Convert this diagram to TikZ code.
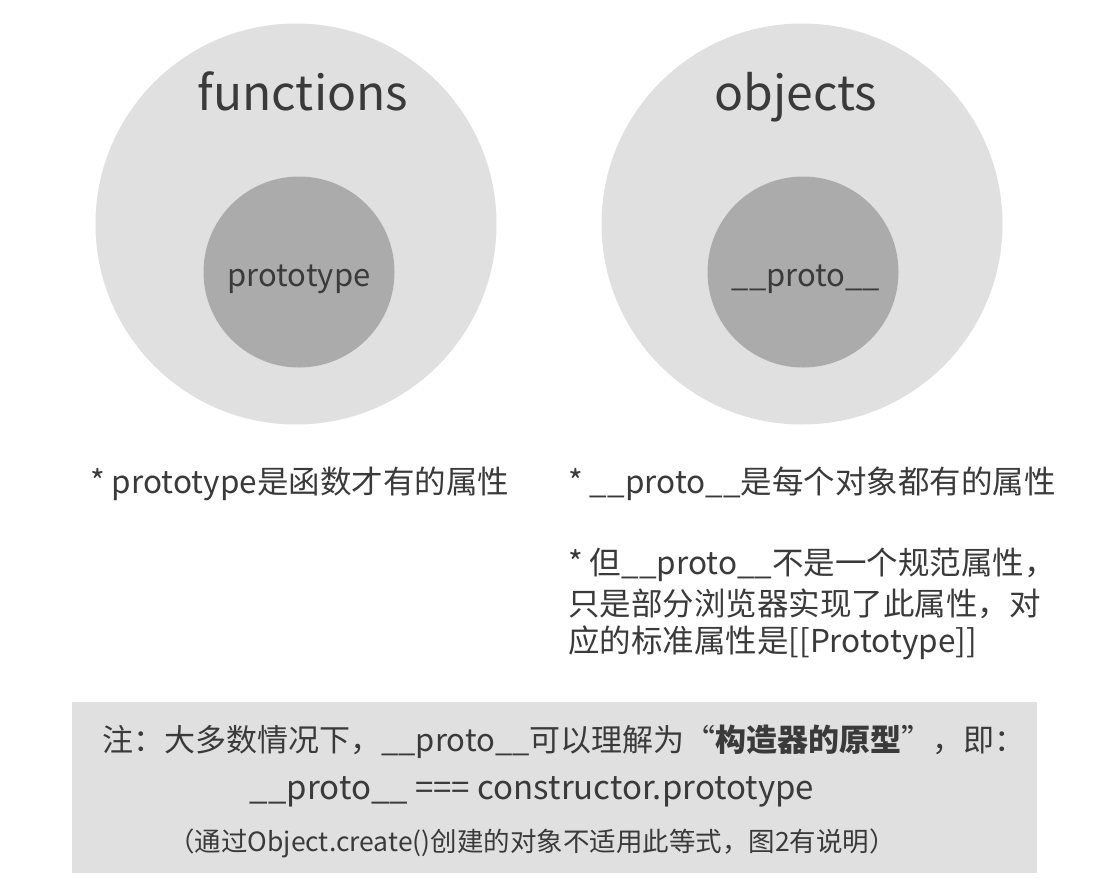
\documentclass[tikz,border=0pt]{standalone}
\usepackage{fontspec}
\setmainfont{Noto Sans CJK SC}
\definecolor{outerfill}{HTML}{E0E0E0}
\definecolor{innerfill}{HTML}{ABABAB}
\definecolor{txt}{HTML}{3A3A3A}
\definecolor{boxfill}{HTML}{E0E0E0}
\tikzset{
  outercirc/.style={circle, fill=outerfill, minimum size=401pt, inner sep=0pt},
  innercirc/.style={circle, fill=innerfill, minimum size=191pt, inner sep=0pt},
  bigtitle/.style={text=txt, font=\fontsize{48}{56}\selectfont, inner sep=0pt, anchor=base},
  innertext/.style={text=txt, font=\fontsize{31}{36}\selectfont, inner sep=0pt, anchor=base},
  note/.style={text=txt, font=\fontsize{31.5}{36}\selectfont, anchor=west, inner sep=0pt},
  notebox/.style={fill=boxfill, inner sep=0pt},
  boxline/.style={text=txt, font=\fontsize{31}{36}\selectfont, inner sep=0pt},
  codeline/.style={text=txt, font=\fontsize{33}{38}\selectfont, inner sep=0pt},
  smallline/.style={text=txt, font=\fontsize{26.5}{32}\selectfont, inner sep=0pt}
}
\begin{document}
\begin{tikzpicture}[x=1pt,y=-1pt]
\useasboundingbox[fill=white] (0,0) rectangle (1114,884);
% circles
\node[outercirc] (fo) at (296,224) {};
\node[outercirc] (oo) at (802,224) {};
\node[innercirc] (fi) at (299,272) {};
\node[innercirc] (oi) at (803,272) {};
% labels
\node[bigtitle] (ft) at (303,110) {functions};
\node[bigtitle] (ot) at (796,110) {objects};
\node[innertext] (pt) at (299,286) {prototype};
\node[innertext] (pp) at (806,286) {\_\_proto\_\_};
% notes
\node[note] (n1) at (90,484) {* prototype是函数才有的属性};
\node[note] (n2) at (568,484) {* \_\_proto\_\_是每个对象都有的属性};
\node[note] (n3) at (568,565) {* 但\_\_proto\_\_不是一个规范属性，};
\node[note] (n4) at (568,604) {只是部分浏览器实现了此属性，对};
\node[note] (n5) at (568,643) {应的标准属性是[[Prototype]]};
% bottom box
\node[notebox, minimum width=965pt, minimum height=171pt] (box) at (554.5,787.5) {};
\node[boxline] (b1) at (564,742) {注：大多数情况下，\_\_proto\_\_可以理解为“\textbf{构造器的原型}”，即：};
\node[codeline] (b2) at (532,792) {\_\_proto\_\_ === constructor.prototype};
\node[smallline] (b3) at (532,843) {（通过Object.create()创建的对象不适用此等式，图2有说明）};
\end{tikzpicture}
\end{document}
